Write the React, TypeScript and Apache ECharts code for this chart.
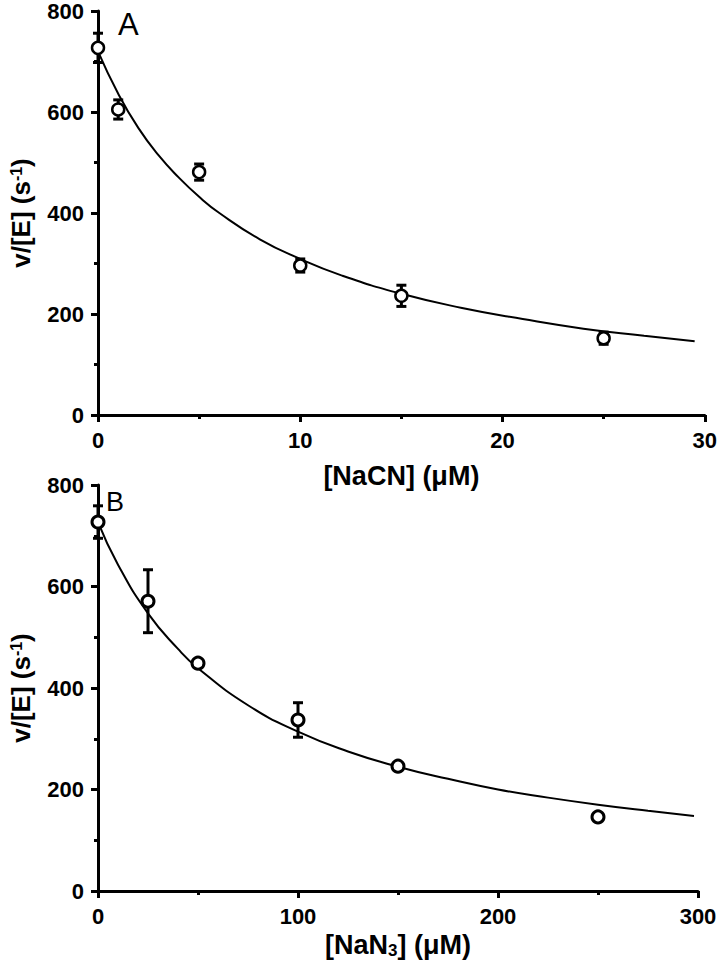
import React, { useEffect, useRef } from "react";
import * as echarts from "echarts";

// Panel A: NaCN
const naCN = [0, 1, 5, 10, 15, 25];
const rateA = [727, 605, 481, 296, 236, 152];
const errA = [29, 19, 16, 13, 21, 12];
const fitXA = [0, 1, 2, 3, 4, 5, 6, 8, 10, 12, 15, 18, 21, 24, 27, 29.5];
const fitYA = [720, 636, 568, 514, 470, 432, 400, 348, 309, 277, 240, 212, 190, 171, 157, 146];

// Panel B: NaN3
const naN3 = [0, 25, 50, 100, 150, 250];
const rateB = [727, 571, 449, 337, 246, 146];
const errB = [32, 62, 5, 34, 5, 4];
const fitXB = [0, 10, 25, 40, 50, 75, 100, 125, 150, 175, 200, 225, 250, 275, 298];
const fitYB = [727, 643, 547, 477, 439, 366, 314, 275, 245, 221, 200, 184, 170, 158, 148];

const yTicks = [0, 200, 400, 600, 800];
const xTicksA = [0, 10, 20, 30];
const xTicksB = [0, 100, 200, 300];

const FONT = "Liberation Sans, Arial, Helvetica, sans-serif";

export default function App() {
  const ref = useRef<HTMLDivElement>(null);
  useEffect(() => {
    if (!ref.current) return;
    const chart = echarts.init(ref.current, null, { renderer: "svg" });

    const axisLine = { show: true, lineStyle: { color: "#000", width: 3 } };
    const axisTick = { show: true, length: 7, lineStyle: { color: "#000", width: 3 } };
    const minorTick = { show: true, splitNumber: 2, length: 4, lineStyle: { color: "#000", width: 3 } };
    const axisLabelX = { fontSize: 22, fontWeight: "bold", color: "#000", fontFamily: FONT, margin: 14 };
    const axisLabelY = { fontSize: 22, fontWeight: "bold", color: "#000", fontFamily: FONT, margin: 14 };

    const yRich = {
      b: { fontSize: 26, fontWeight: "bold", color: "#000", fontFamily: FONT, lineHeight: 26, verticalAlign: "bottom" },
      sup: { fontSize: 16, fontWeight: "bold", color: "#000", fontFamily: FONT, lineHeight: 16, verticalAlign: "top", padding: [0, 0, 12, 0] },
    };
    const xRich = {
      b: { fontSize: 27, fontWeight: "bold", color: "#000", fontFamily: FONT, lineHeight: 27, verticalAlign: "top" },
      sub: { fontSize: 17, fontWeight: "bold", color: "#000", fontFamily: FONT, lineHeight: 17, verticalAlign: "bottom", padding: [14, 0, 0, 0] },
    };

    const makeYAxis = (gi: number) => ({
      type: "value",
      gridIndex: gi,
      min: yTicks[0],
      max: yTicks[yTicks.length - 1],
      interval: 200,
      axisLine,
      axisTick,
      minorTick,
      splitLine: { show: false },
      axisLabel: axisLabelY,
      name: "{b|v/[E] (s}{sup|-1}{b|)}",
      nameLocation: "middle",
      nameRotate: 90,
      nameGap: 58,
      nameTextStyle: { rich: yRich },
    });

    const errRender = (params: any, api: any) => {
      const x = api.value(0);
      const y = api.value(1);
      const e = api.value(2);
      const top = api.coord([x, y + e]);
      const bot = api.coord([x, y - e]);
      const hw = 5;
      const st = { stroke: "#000", lineWidth: 3 };
      return {
        type: "group",
        children: [
          { type: "line", shape: { x1: top[0], y1: top[1], x2: bot[0], y2: bot[1] }, style: st },
          { type: "line", shape: { x1: top[0] - hw, y1: top[1], x2: top[0] + hw, y2: top[1] }, style: st },
          { type: "line", shape: { x1: bot[0] - hw, y1: bot[1], x2: bot[0] + hw, y2: bot[1] }, style: st },
        ],
      };
    };

    const option: any = {
      animation: false,
      backgroundColor: "#fff",
      grid: [
        { left: 98, top: 9, width: 609, height: 406 },
        { left: 98, top: 485, width: 600, height: 406 },
      ],
      xAxis: [
        {
          type: "value",
          gridIndex: 0,
          min: xTicksA[0],
          max: xTicksA[xTicksA.length - 1],
          interval: 10,
          axisLine,
          axisTick,
          minorTick,
          splitLine: { show: false },
          axisLabel: axisLabelX,
          name: "[NaCN] (μM)",
          nameLocation: "middle",
          nameGap: 47,
          nameTextStyle: { fontSize: 27, fontWeight: "bold", color: "#000", fontFamily: FONT },
        },
        {
          type: "value",
          gridIndex: 1,
          min: xTicksB[0],
          max: xTicksB[xTicksB.length - 1],
          interval: 100,
          axisLine,
          axisTick,
          minorTick,
          splitLine: { show: false },
          axisLabel: axisLabelX,
          name: "{b|[NaN}{sub|3}{b|] (μM)}",
          nameLocation: "middle",
          nameGap: 37,
          nameTextStyle: { rich: xRich },
        },
      ],
      yAxis: [makeYAxis(0), makeYAxis(1)],
      graphic: [
        { type: "text", left: 118, top: 9, style: { text: "A", fontSize: 31, fontFamily: FONT, fill: "#000" } },
        { type: "text", left: 106, top: 488, style: { text: "B", fontSize: 27, fontFamily: FONT, fill: "#000" } },
      ],
      series: [
        {
          type: "line",
          xAxisIndex: 0,
          yAxisIndex: 0,
          data: fitXA.map((x, i) => [x, fitYA[i]]),
          smooth: true,
          showSymbol: false,
          symbol: "none",
          lineStyle: { color: "#000", width: 2 },
          z: 2,
        },
        {
          type: "custom",
          xAxisIndex: 0,
          yAxisIndex: 0,
          data: naCN.map((x, i) => [x, rateA[i], errA[i]]),
          renderItem: errRender,
          encode: { x: 0, y: 1 },
          z: 3,
        },
        {
          type: "scatter",
          xAxisIndex: 0,
          yAxisIndex: 0,
          data: naCN.map((x, i) => [x, rateA[i]]),
          symbol: "circle",
          symbolSize: 12,
          itemStyle: { color: "#fff", borderColor: "#000", borderWidth: 2.5, opacity: 1 },
          z: 4,
        },
        {
          type: "line",
          xAxisIndex: 1,
          yAxisIndex: 1,
          data: fitXB.map((x, i) => [x, fitYB[i]]),
          smooth: true,
          showSymbol: false,
          symbol: "none",
          lineStyle: { color: "#000", width: 2 },
          z: 2,
        },
        {
          type: "custom",
          xAxisIndex: 1,
          yAxisIndex: 1,
          data: naN3.map((x, i) => [x, rateB[i], errB[i]]),
          renderItem: errRender,
          encode: { x: 0, y: 1 },
          z: 3,
        },
        {
          type: "scatter",
          xAxisIndex: 1,
          yAxisIndex: 1,
          data: naN3.map((x, i) => [x, rateB[i]]),
          symbol: "circle",
          symbolSize: 12,
          itemStyle: { color: "#fff", borderColor: "#000", borderWidth: 3, opacity: 1 },
          z: 4,
        },
      ],
    };
    chart.setOption(option);
    return () => chart.dispose();
  }, []);
  return (
    <div
      ref={ref}
      style={{ position: "absolute", left: 0, top: 0, width: 720, height: 965, background: "#fff" }}
    />
  );
}
